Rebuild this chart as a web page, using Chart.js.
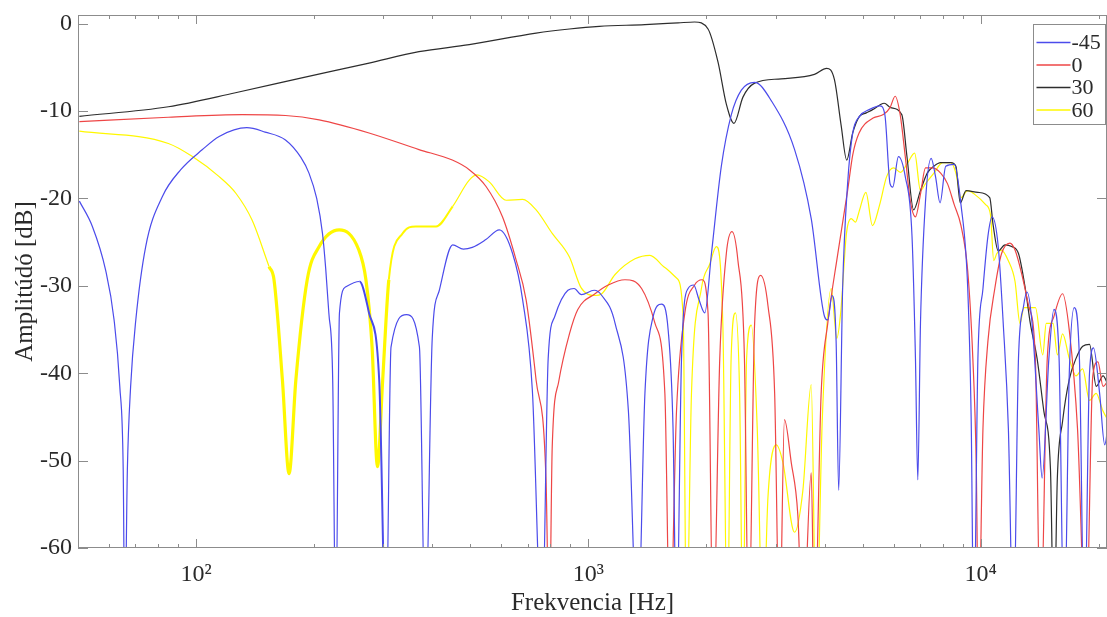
<!DOCTYPE html>
<html lang="hu">
<head>
<meta charset="utf-8">
<title>Amplitúdó - frekvencia</title>
<script src="https://cdn.jsdelivr.net/npm/chart.js@4.4.1/dist/chart.umd.min.js"></script>
<style>
  html, body { margin: 0; padding: 0; background: #fff; }
  #wrap { width: 1107px; height: 617px; position: relative; }
</style>
</head>
<body>
<div id="wrap"><canvas id="chart"></canvas></div>
<script>
// series names (legend)
const seriesLabels = ['-45', '0', '30', '60'];
const seriesColors = ['rgb(75,75,235)', 'rgb(238,70,70)', 'rgb(45,45,45)', 'rgb(255,248,0)'];

// -45
const freqM45 = [50.4, 54.4, 58.8, 61.8, 63.9, 65.2, 65.8, 66.8, 68.1, 70.2, 74.4, 82, 91.4, 103.8, 114.5, 134.7, 150, 169, 185, 194,
  203, 210, 214, 218, 223, 227, 232, 241, 261, 276, 293, 305, 314, 344, 371, 384, 400, 417, 451, 480, 506, 548, 593, 641, 680,
  720, 762, 790, 821, 887, 920, 960, 1035, 1082, 1170, 1265, 1336, 1394, 1463, 1537, 1598, 1644, 1678, 1728, 1796, 1856, 1912, 1981,
  2060, 2183, 2315, 2455, 2654, 2926, 3356, 3700, 4000, 4077, 4181, 4282, 4347, 4449, 4581, 4721, 4912, 5214, 5534, 5700,
  5876, 5970, 6173, 6426, 6685, 6822, 6917, 7026, 7237, 7480, 7675, 7882, 8150, 8565, 8912, 9272, 9460, 9610, 9843, 10140,
  10440, 10700, 11090, 11420, 11770, 12120, 12490, 12870, 13130, 13530, 14070, 14350, 14930, 15380, 15850, 16330, 16830,
  17330, 17860, 18390, 18950, 19400, 20110, 20720, 21190];
const dbM45 = [-20.3, -23.2, -28.2, -33.9, -41.5, -51.1, -70, -51.1, -41.5, -33.9, -25.5, -19.8, -16.7, -14.4, -12.9, -11.9, -12.4, -13.3, -15.3, -17.1,
  -20, -24, -28, -33.1, -40.8, -70, -33.1, -30.1, -29.5, -33.1, -40.8, -70, -37, -33.3, -37, -70, -36, -30.5, -25.3, -25.8, -25.6, -24.7, -23.6, -26.3, -31.6,
  -42, -70, -38.3, -33.5, -30.5, -30.3, -31.0, -30.5, -31.1, -34.3, -44.3, -70, -42.3, -33.5, -32.1, -35.1, -46.3, -70, -38.3, -30.3, -29.9, -31.5, -33.1,
  -26.3, -16.3, -10.4, -7.6, -6.7, -8.8, -14.4, -22.3, -33.5, -33.9, -31.1, -36.3, -53.4, -30.3, -18.3, -12.5, -10.6, -9.8, -9.4, -10.4,
  -18.3, -18.7, -15.2, -17.5, -24.3, -38.3, -52.2, -34.3, -20.3, -15.4, -17.5, -20.5, -16.3, -16.1, -20.7, -30.3, -45, -70, -38.3, -30.3,
  -24.3, -22.1, -25.5, -34.3, -46.3, -70, -38.3, -32.3, -30.7, -34.3, -46.3, -52, -38.3, -32.7, -38.3, -70, -40,
  -32.5, -38.3, -70, -40, -37.1, -42.3, -48.2, -45.5];

// 0
const freq0 = [50.4, 85, 131, 169, 206, 276, 370, 450, 497, 548, 604, 654, 694, 736, 780, 795, 809, 840, 895, 940, 1040,
  1124, 1240, 1367, 1479, 1567, 1614, 1678, 1762, 1866, 1950, 2019, 2080, 2163, 2248, 2324, 2406, 2500, 2563, 2654, 2750,
  2871, 2985, 3072, 3162, 3290, 3420, 3524, 3700, 3770, 3922, 4077, 4325, 4581, 4721, 4900, 5320, 5650, 5876, 6055, 6237,
  6426, 6620, 6822, 7026, 7237, 7530, 7910, 8232, 8565, 8912, 9272, 9554, 9745, 9881, 10140, 10440, 10870, 11310, 11880,
  12240, 12740, 13260, 13790, 14210, 14790, 15380, 16180, 16830, 17660, 18570, 19320, 19910, 20520, 21190];
const db0 = [-11.2, -10.7, -10.4, -10.5, -11.0, -12.5, -14.4, -15.6, -16.7, -18.6, -22.1, -27, -31.6, -40.8, -52.2, -70, -48.4, -41, -35.5, -32.7, -30.9,
  -29.9, -29.3, -30.3, -34.3, -42.3, -70, -44.3, -33.1, -29.9, -29.3, -33.1, -70, -38.3, -26.3, -23.8, -27.1, -38.3, -70, -34.3, -28.8,
  -32.3, -42.3, -70, -45.3, -50.2, -56.2, -70, -51.4, -70, -42.3, -34.3, -26.3, -19.1, -15, -12.5, -10.8, -10.4, -9.6, -8.3, -10.4,
  -15.2, -20.3, -22.1, -19.5, -16.5, -16.5, -17.1, -18.3, -20.7, -23.1, -28.3, -38.3, -50.2, -70, -46.3, -36.3, -30.3, -26.3, -25.1,
  -25.9, -28.7, -32.3, -38.3, -70, -38.3, -33.5, -30.9, -35.1, -46.3, -70, -40.3, -38.7, -41.5, -40.7];

// 30
const freq30 = [50.4, 85, 126, 186, 276, 370, 497, 736, 895, 1066, 1394, 1694, 1866, 2019, 2141, 2248,
  2351, 2478, 2654, 3103, 3770, 4051, 4240, 4409, 4557, 4720, 4911, 5111, 5318, 5534, 5680, 5900, 6296, 6490, 6748, 7026,
  7310, 7605, 7910, 8396, 8650, 8875, 9180, 9843, 10550, 10760, 11090, 11540, 12000, 12490, 13000, 13390, 13930, 14490,
  15070, 15380, 15690, 16180, 16830, 17510, 18210, 18950, 19720, 20520, 21190];
const db30 = [-10.6, -9.5, -7.9, -6.2, -4.5, -3.2, -2.4, -1.07, -0.6, -0.3, -0.1, 0.1, 0.2, -0.6, -4.4, -9.2,
  -11.4, -8.4, -6.8, -6.3, -5.8, -5.1, -6.4, -11.6, -15.6, -12.5, -10.6, -10.2, -9.8, -9.3, -9.1, -9.6, -10.4, -15.2, -21.3, -19.1,
  -17.1, -16.3, -15.9, -15.9, -16.3, -20.5, -19.1, -19.3, -19.9, -23, -26.0, -25.3, -25.5, -26.3, -30.3, -34.3, -38.3, -44.3,
  -51, -70, -52, -45.5, -40.7, -38.3, -36.9, -36.7, -41.5, -40.3, -41.5];

// 60
const freq60 = [50.4, 85, 97.9, 114.5, 126.3, 139, 153.5, 158, 166, 172.6, 179.6, 192, 206, 231.7, 260, 271, 281, 290, 299,
  310, 336, 363, 409, 451, 497, 520, 559, 617, 680, 736, 809, 895, 958, 1040, 1082, 1170, 1315, 1435, 1567, 1678, 1745, 1779,
  1832, 1942, 2040, 2119, 2202, 2261, 2312, 2371, 2430, 2478, 2532, 2603, 2695, 2786, 2870, 3013, 3133, 3354, 3523, 3700,
  3808, 3950, 4160, 4300, 4400, 4550, 4677, 4800, 4900, 5100, 5300, 5530, 5760, 6000, 6250, 6500, 6790, 7026, 7237, 7600,
  8000, 8400, 8650, 8910, 9270, 9640, 10300, 10600, 10800, 11000, 11300, 11760, 12240, 12600, 12900, 13800, 14400, 14700,
  15300, 15700, 16180, 16830, 17500, 18200, 18950, 19700, 20500, 21190];
const db60 = [-12.3, -13.7, -15.2, -17.5, -19.4, -22.5, -27.8, -29.3, -40.8, -51.5, -40.8, -29.3, -25.5, -23.6, -25.9, -29.3, -37, -50.7, -40.8,
  -29.3, -24, -23.2, -23.2, -20.9, -17.9, -17.3, -18.1, -20.2, -20.1, -21.3, -24, -26.7, -30.2, -31.1, -30.9, -28.7, -26.9, -26.5, -27.9, -29.1, -33.5, -70,
  -42.3, -30.3, -27.5, -25.5, -34.3, -70, -38.3, -33.1, -42.3, -70, -38.3, -34.5, -46.3, -70, -54.2, -48.2, -50.2, -58.2, -53.4, -41.3,
  -70, -45, -30.3, -36, -33, -24, -22.3, -22.7, -21.5, -19.3, -23.1, -20.7, -17.5, -16.5, -17, -16, -14.8, -19.1, -18.3, -17.1,
  -15.9, -15.9, -17.1, -19.9, -19.1, -19.5, -20.7, -21.9, -27.1, -26.3, -25.9, -27.1, -29.5, -34.3, -32.5, -32.5, -37.9, -34.3,
  -34.3, -37.9, -35.5, -38.3, -40.3, -39.5, -43.1, -42.3, -44.3, -45.5];

// axis ticks
const xTickValues = [50, 60, 70, 80, 90, 100, 200, 300, 400, 500, 600, 700, 800, 900, 1000,
  2000, 3000, 4000, 5000, 6000, 7000, 8000, 9000, 10000, 20000];
const xTickLabels = { 100: '10\u00B2', 1000: '10\u00B3', 10000: '10\u2074' };
const yTickValues = [-60, -50, -40, -30, -20, -10, 0];

const serif = "'Liberation Serif', 'Times New Roman', serif";
const textColor = '#2a2a2a';
const frameColor = '#8c8c8c';

function pairs(fs, ds) {
  return fs.map((f, i) => ({ x: f, y: ds[i] }));
}

// noisy stretches of the measurement look thicker in the original
function noisyWidth(ranges) {
  return ctx => {
    const f = ctx.p0.parsed.x;
    const r = ranges.find(r => f >= r[0] && f < r[1]);
    return r ? r[2] : 1.2;
  };
}

// box around the axes with inward ticks, like MATLAB's "box on"
const frameTicks = {
  id: 'frameTicks',
  afterDatasetsDraw(chart) {
    const { ctx, chartArea: a, scales: { x, y } } = chart;
    ctx.save();
    ctx.strokeStyle = frameColor;
    ctx.lineWidth = 1;
    ctx.beginPath();
    x.ticks.forEach(t => {
      const px = Math.round(x.getPixelForValue(t.value)) + 0.5;
      const len = xTickLabels[t.value] ? 9 : 4;
      ctx.moveTo(px, a.bottom); ctx.lineTo(px, a.bottom - len);
      ctx.moveTo(px, a.top); ctx.lineTo(px, a.top + len);
    });
    y.ticks.forEach(t => {
      const py = Math.round(y.getPixelForValue(t.value)) + 0.5;
      ctx.moveTo(a.left, py); ctx.lineTo(a.left + 10, py);
      ctx.moveTo(a.right, py); ctx.lineTo(a.right - 10, py);
    });
    ctx.stroke();
    ctx.strokeRect(a.left + 0.5, a.top + 0.5, a.right - a.left - 1, a.bottom - a.top - 1);
    ctx.restore();
  }
};

// legend box in the upper right corner
const boxLegend = {
  id: 'boxLegend',
  afterDraw(chart) {
    const { ctx, chartArea: a } = chart;
    const bx = a.right - 73.5, by = a.top + 9.5, bw = 72, bh = 100;
    ctx.save();
    ctx.fillStyle = '#fff';
    ctx.fillRect(bx, by, bw, bh);
    ctx.strokeStyle = frameColor;
    ctx.lineWidth = 1;
    ctx.strokeRect(bx, by, bw, bh);
    ctx.font = '22px ' + serif;
    ctx.textBaseline = 'middle';
    ctx.fillStyle = textColor;
    chart.data.datasets.forEach((ds, i) => {
      const ly = by + 18 + i * 22.5;
      ctx.strokeStyle = ds.borderColor;
      ctx.lineWidth = 1.3;
      ctx.beginPath();
      ctx.moveTo(bx + 3, ly); ctx.lineTo(bx + 37, ly);
      ctx.stroke();
      ctx.fillText(ds.label, bx + 38, ly + 1);
    });
    ctx.restore();
  }
};

const datasets = [
  { label: seriesLabels[0], data: pairs(freqM45, dbM45), borderColor: seriesColors[0],
    segment: { borderWidth: noisyWidth([[255, 300, 2]]) } },
  { label: seriesLabels[1], data: pairs(freq0, db0), borderColor: seriesColors[1] },
  { label: seriesLabels[2], data: pairs(freq30, db30), borderColor: seriesColors[2] },
  { label: seriesLabels[3], data: pairs(freq60, db60), borderColor: seriesColors[3],
    segment: { borderWidth: noisyWidth([[145, 310, 3.2], [310, 420, 2]]) } }
].map(d => Object.assign({
  borderWidth: 1.2,
  pointRadius: 0,
  fill: false,
  cubicInterpolationMode: 'monotone',
  clip: 0
}, d));

new Chart(document.getElementById('chart'), {
  type: 'line',
  data: { datasets },
  options: {
    responsive: true,
    maintainAspectRatio: false,
    animation: false,
    events: [],
    layout: { padding: { top: 15, right: 0, bottom: 0, left: 0 } },
    plugins: {
      legend: { display: false },
      tooltip: { enabled: false }
    },
    scales: {
      x: {
        type: 'logarithmic',
        min: 50,
        max: 21000,
        afterBuildTicks: axis => { axis.ticks = xTickValues.map(v => ({ value: v })); },
        afterFit: axis => { axis.height = 69; },
        grid: { display: false, drawTicks: false },
        border: { display: false },
        ticks: {
          autoSkip: false,
          maxRotation: 0,
          padding: 0,
          color: textColor,
          font: { family: serif, size: 24, lineHeight: 2.25 },
          callback: v => xTickLabels[v] || ''
        },
        title: {
          display: true,
          text: 'Frekvencia [Hz]',
          color: textColor,
          font: { family: serif, size: 25, lineHeight: 1 },
          padding: { top: 0, bottom: 1 }
        }
      },
      y: {
        type: 'linear',
        min: -60,
        max: 1,
        afterBuildTicks: axis => { axis.ticks = yTickValues.map(v => ({ value: v })); },
        afterFit: axis => { axis.width = 78; },
        grid: { display: false, drawTicks: false },
        border: { display: false },
        ticks: {
          padding: 6,
          color: textColor,
          font: { family: serif, size: 24, lineHeight: 0.4 },
          callback: v => String(v)
        },
        title: {
          display: true,
          text: 'Amplitúdó [dB]',
          color: textColor,
          font: { family: serif, size: 25 },
          padding: { top: 10, bottom: 0 }
        }
      }
    }
  },
  plugins: [frameTicks, boxLegend]
});
</script>
</body>
</html>
